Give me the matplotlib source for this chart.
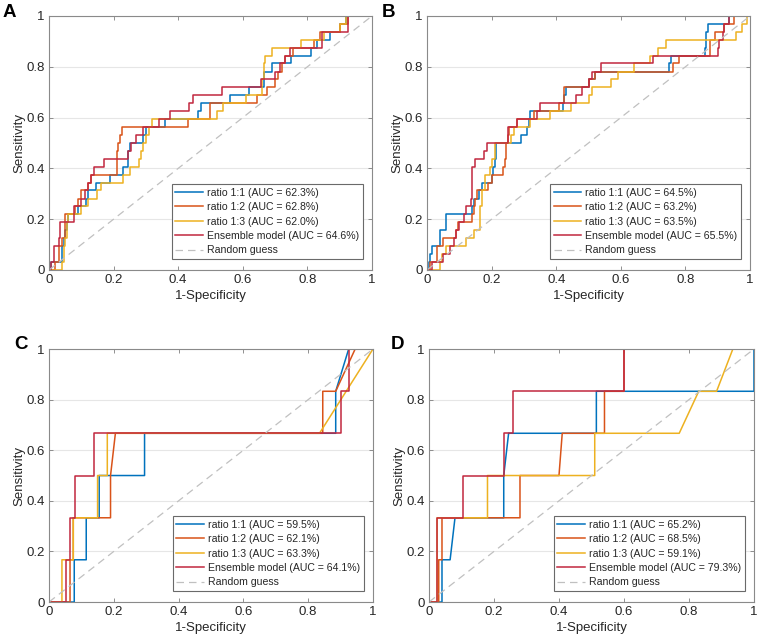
import matplotlib
matplotlib.use("Agg")
import matplotlib.pyplot as plt

plt.rcParams['font.family'] = ['Liberation Sans', 'DejaVu Sans']

# ---- data ----
names = ["ratio 1:1", "ratio 1:2", "ratio 1:3", "Ensemble model"]
colors = ["#0072BD", "#D95319", "#EDB120", "#C1273F"]

auc_A = [62.3, 62.8, 62.0, 64.6]
auc_B = [64.5, 63.2, 63.5, 65.5]
auc_C = [59.5, 62.1, 63.3, 64.1]
auc_D = [65.2, 68.5, 59.1, 79.3]

# panel A (step points: at fpr the curve jumps up to tpr)
A_fpr_11 = [0, 0.005, 0.04, 0.045, 0.05, 0.055, 0.06, 0.09, 0.115, 0.12, 0.145, 0.19, 0.23, 0.245, 0.25, 0.29,
            0.3, 0.36, 0.46, 0.47, 0.56, 0.62, 0.665, 0.69, 0.75, 0.81, 0.83, 0.87, 0.9, 0.92, 1]
A_tpr_11 = [0, 0.031, 0.094, 0.125, 0.156, 0.188, 0.219, 0.25, 0.281, 0.313, 0.344, 0.375, 0.406, 0.469, 0.5, 0.531,
            0.563, 0.594, 0.625, 0.656, 0.688, 0.719, 0.781, 0.813, 0.844, 0.875, 0.906, 0.938, 0.969, 1, 1]
A_fpr_12 = [0, 0.02, 0.03, 0.04, 0.05, 0.08, 0.09, 0.1, 0.12, 0.13, 0.21, 0.215, 0.22, 0.225, 0.43, 0.5,
            0.645, 0.675, 0.7, 0.71, 0.72, 0.73, 0.755, 0.82, 0.84, 0.9, 0.925, 1]
A_tpr_12 = [0, 0.031, 0.094, 0.125, 0.219, 0.25, 0.281, 0.313, 0.344, 0.375, 0.469, 0.5, 0.531, 0.563, 0.594, 0.656,
            0.688, 0.719, 0.75, 0.781, 0.813, 0.844, 0.875, 0.906, 0.938, 0.969, 1, 1]
A_fpr_13 = [0, 0.04, 0.045, 0.05, 0.055, 0.06, 0.1, 0.12, 0.15, 0.16, 0.23, 0.25, 0.28, 0.285, 0.29, 0.3,
            0.31, 0.32, 0.52, 0.54, 0.61, 0.66, 0.665, 0.67, 0.69, 0.78, 0.85, 0.9, 0.92, 1]
A_tpr_13 = [0, 0.031, 0.094, 0.125, 0.188, 0.219, 0.25, 0.281, 0.313, 0.344, 0.375, 0.406, 0.438, 0.469, 0.5, 0.531,
            0.563, 0.594, 0.625, 0.656, 0.688, 0.75, 0.813, 0.844, 0.875, 0.906, 0.938, 0.969, 1, 1]
A_fpr_ens = [0, 0.005, 0.015, 0.03, 0.035, 0.078, 0.1, 0.11, 0.12, 0.13, 0.14, 0.17, 0.245, 0.255, 0.27,
             0.29, 0.34, 0.375, 0.435, 0.445, 0.535, 0.655, 0.7, 0.715, 0.73, 0.745, 0.845, 0.925, 1]
A_tpr_ens = [0, 0.031, 0.094, 0.125, 0.188, 0.25, 0.281, 0.313, 0.344, 0.375, 0.406, 0.438, 0.469, 0.5, 0.531,
             0.563, 0.594, 0.625, 0.656, 0.688, 0.719, 0.75, 0.781, 0.813, 0.844, 0.875, 0.938, 1, 1]

# panel B (step points)
B_fpr_11 = [0, 0.005, 0.01, 0.015, 0.04, 0.06, 0.14, 0.145, 0.16, 0.17, 0.2, 0.205, 0.21, 0.215, 0.29,
            0.31, 0.315, 0.32, 0.42, 0.425, 0.43, 0.5, 0.52, 0.75, 0.755, 0.86, 0.865, 0.87, 0.935, 1]
B_tpr_11 = [0, 0.031, 0.063, 0.094, 0.156, 0.219, 0.25, 0.281, 0.313, 0.344, 0.375, 0.406, 0.438, 0.5, 0.531,
            0.563, 0.594, 0.625, 0.656, 0.688, 0.719, 0.75, 0.781, 0.813, 0.844, 0.875, 0.938, 0.969, 1, 1]
B_fpr_12 = [0, 0.01, 0.03, 0.05, 0.09, 0.095, 0.14, 0.145, 0.15, 0.155, 0.19, 0.2, 0.235, 0.24, 0.245,
            0.25, 0.255, 0.28, 0.33, 0.41, 0.425, 0.5, 0.52, 0.76, 0.78, 0.875, 0.89, 0.92, 0.95, 1]
B_tpr_12 = [0, 0.031, 0.094, 0.125, 0.156, 0.188, 0.219, 0.25, 0.281, 0.313, 0.344, 0.375, 0.406, 0.438, 0.5,
            0.531, 0.563, 0.594, 0.625, 0.656, 0.719, 0.75, 0.781, 0.813, 0.844, 0.906, 0.938, 0.969, 1, 1]
B_fpr_13 = [0, 0.04, 0.045, 0.06, 0.12, 0.145, 0.165, 0.17, 0.18, 0.195, 0.2, 0.21, 0.26, 0.27, 0.32,
            0.38, 0.445, 0.5, 0.51, 0.57, 0.59, 0.64, 0.69, 0.715, 0.74, 0.955, 0.975, 0.99, 1]
B_tpr_13 = [0, 0.031, 0.063, 0.094, 0.125, 0.156, 0.25, 0.313, 0.375, 0.406, 0.438, 0.5, 0.531, 0.563, 0.594,
            0.625, 0.656, 0.688, 0.719, 0.75, 0.781, 0.813, 0.844, 0.875, 0.906, 0.938, 0.969, 1, 1]
B_fpr_ens = [0, 0.015, 0.05, 0.07, 0.085, 0.09, 0.1, 0.115, 0.12, 0.135, 0.14, 0.15, 0.175, 0.185, 0.25,
             0.28, 0.34, 0.35, 0.46, 0.48, 0.5, 0.51, 0.54, 0.7, 0.9, 0.905, 0.915, 0.92, 0.935, 1]
B_tpr_ens = [0, 0.031, 0.063, 0.094, 0.125, 0.156, 0.188, 0.219, 0.25, 0.281, 0.406, 0.438, 0.469, 0.5, 0.563,
             0.594, 0.625, 0.656, 0.688, 0.719, 0.75, 0.781, 0.813, 0.844, 0.875, 0.906, 0.938, 0.969, 1, 1]

# panel C (curve vertices)
C_fpr_11 = [0, 0.078, 0.078, 0.115, 0.115, 0.155, 0.155, 0.295, 0.295, 0.885, 0.885, 0.925, 1]
C_tpr_11 = [0, 0, 0.167, 0.167, 0.333, 0.333, 0.5, 0.5, 0.667, 0.667, 0.833, 1, 1]
C_fpr_12 = [0, 0.065, 0.065, 0.075, 0.075, 0.19, 0.19, 0.205, 0.845, 0.845, 0.885, 0.945, 1]
C_tpr_12 = [0, 0, 0.167, 0.167, 0.333, 0.333, 0.5, 0.667, 0.667, 0.833, 0.833, 1, 1]
C_fpr_13 = [0, 0.04, 0.04, 0.075, 0.075, 0.15, 0.15, 0.18, 0.18, 0.835, 1]
C_tpr_13 = [0, 0, 0.167, 0.167, 0.333, 0.333, 0.5, 0.5, 0.667, 0.667, 1]
C_fpr_ens = [0, 0.052, 0.052, 0.065, 0.065, 0.08, 0.08, 0.14, 0.14, 0.9, 0.9, 0.925, 0.925, 1]
C_tpr_ens = [0, 0, 0.167, 0.167, 0.333, 0.333, 0.5, 0.5, 0.667, 0.667, 0.833, 0.833, 1, 1]

# panel D (curve vertices)
D_fpr_11 = [0, 0.04, 0.04, 0.065, 0.08, 0.23, 0.23, 0.245, 0.515, 0.515, 1, 1]
D_tpr_11 = [0, 0, 0.167, 0.167, 0.333, 0.333, 0.5, 0.667, 0.667, 0.833, 0.833, 1]
D_fpr_12 = [0, 0.03, 0.03, 0.04, 0.04, 0.28, 0.28, 0.4, 0.41, 0.54, 0.54, 0.6, 0.6, 1]
D_tpr_12 = [0, 0, 0.167, 0.167, 0.333, 0.333, 0.5, 0.5, 0.667, 0.667, 0.833, 0.833, 1, 1]
D_fpr_13 = [0, 0.025, 0.025, 0.18, 0.18, 0.51, 0.51, 0.77, 0.83, 0.885, 0.935, 1]
D_tpr_13 = [0, 0, 0.333, 0.333, 0.5, 0.5, 0.667, 0.667, 0.833, 0.833, 1, 1]
D_fpr_ens = [0, 0.025, 0.025, 0.105, 0.105, 0.23, 0.23, 0.26, 0.26, 0.6, 0.6, 1]
D_tpr_ens = [0, 0, 0.333, 0.333, 0.5, 0.5, 0.667, 0.667, 0.833, 0.833, 1, 1]

ticks = [0, 0.2, 0.4, 0.6, 0.8, 1]
tick_labels = ["0", "0.2", "0.4", "0.6", "0.8", "1"]


def roc_panel(ax, curves, aucs, steps):
    for (fx, ty), name, col, auc in zip(curves, names, colors, aucs):
        ax.plot(fx, ty, color=col, lw=1.1, label=f"{name} (AUC = {auc}%)",
                drawstyle="steps-post" if steps else "default")
    ax.plot([0, 1], [0, 1], color="#c0c0c0", lw=0.9, ls=(0, (6, 4)), label="Random guess")
    ax.set_xlim(0, 1)
    ax.set_ylim(0, 1)
    ax.set_xticks(ticks)
    ax.set_xticklabels(tick_labels)
    ax.set_yticks(ticks)
    ax.set_yticklabels(tick_labels)
    ax.yaxis.grid(True, color="#e6e6e6", lw=0.8)
    ax.set_axisbelow(True)
    ax.tick_params(direction="in", length=3, width=0.6, top=True, right=True,
                   labelsize=9.5, colors="#7f7f7f", labelcolor="#262626", pad=3)
    for s in ax.spines.values():
        s.set_color("#8a8a8a")
        s.set_linewidth(0.8)
    ax.set_xlabel("1-Specificity", fontsize=9.5, color="#262626", labelpad=3)
    ax.set_ylabel("Sensitivity", fontsize=9.5, color="#262626", labelpad=1)
    leg = ax.legend(loc="lower right", bbox_to_anchor=(0.972, 0.043), fontsize=7.6,
                    frameon=True, fancybox=False, edgecolor="#6a6a6a", framealpha=1,
                    handlelength=2.6, handletextpad=0.4, labelspacing=0.42,
                    borderpad=0.35, borderaxespad=0)
    leg.get_frame().set_linewidth(0.8)
    for t in leg.get_texts():
        t.set_color("#262626")


fig = plt.figure(figsize=(7.57, 6.41), dpi=100)
axA = fig.add_axes([0.0647, 0.5788, 0.4267, 0.3963])
axB = fig.add_axes([0.5641, 0.5788, 0.4267, 0.3963])
axC = fig.add_axes([0.0647, 0.0608, 0.4280, 0.3947])
axD = fig.add_axes([0.5667, 0.0608, 0.4293, 0.3947])

roc_panel(axA, [(A_fpr_11, A_tpr_11), (A_fpr_12, A_tpr_12), (A_fpr_13, A_tpr_13), (A_fpr_ens, A_tpr_ens)], auc_A, True)
roc_panel(axB, [(B_fpr_11, B_tpr_11), (B_fpr_12, B_tpr_12), (B_fpr_13, B_tpr_13), (B_fpr_ens, B_tpr_ens)], auc_B, True)
roc_panel(axC, [(C_fpr_11, C_tpr_11), (C_fpr_12, C_tpr_12), (C_fpr_13, C_tpr_13), (C_fpr_ens, C_tpr_ens)], auc_C, False)
roc_panel(axD, [(D_fpr_11, D_tpr_11), (D_fpr_12, D_tpr_12), (D_fpr_13, D_tpr_13), (D_fpr_ens, D_tpr_ens)], auc_D, False)

for lab, x, y in [("A", 3 / 757, 1 - 4 / 641), ("B", 382 / 757, 1 - 4 / 641),
                  ("C", 14 / 757, 1 - 336 / 641), ("D", 391 / 757, 1 - 336 / 641)]:
    fig.text(x, y, lab, fontsize=13.5, fontweight="bold", ha="left", va="top", color="black")

fig.savefig("out.png", dpi=100)
